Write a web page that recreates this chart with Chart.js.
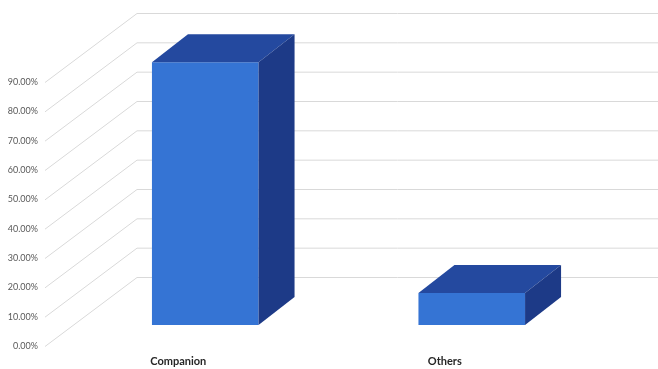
<!DOCTYPE html>
<html>
<head>
<meta charset="utf-8">
<script src="https://cdn.jsdelivr.net/npm/chart.js@4.4.1/dist/chart.umd.min.js"></script>
<style>
  html, body { margin: 0; padding: 0; background: #fff; }
  #wrap { width: 658px; height: 369px; }
</style>
</head>
<body>
<div id="wrap"><canvas id="myChart"></canvas></div>
<script>
// dados do grafico
const categorias = ['Companion', 'Others'];
const valores = [89.6, 10.9];
const ticksY = [0, 10, 20, 30, 40, 50, 60, 70, 80, 90];

// profundidade 3D (estilo Excel)
const pisoX = 92, pisoY = 69;      // parede lateral inteira
const frenteY = 21;                // plano da frente das barras
const barraX = 36, barraY = 28;    // espessura da barra

const corFrente = '#3574d4';
const corTopo = '#24499f';
const corLado = '#1d3a87';
const corGrade = '#d9d9d9';

// linhas da parede lateral e do fundo
const grade3d = {
  id: 'grade3d',
  beforeDatasetsDraw(chart) {
    const ctx = chart.ctx;
    const y = chart.scales.y;
    ctx.save();
    ctx.strokeStyle = corGrade;
    ctx.lineWidth = 1;
    ticksY.forEach(v => {
      const py = y.getPixelForValue(v) + frenteY;
      const fx = 45, bx = fx + pisoX, by = py - pisoY;
      ctx.beginPath();
      ctx.moveTo(fx, py + 0.5);
      ctx.lineTo(bx, by + 0.5);
      ctx.lineTo(chart.width, by + 0.5);
      ctx.stroke();
    });
    ctx.restore();
  }
};

// topo e lado das barras
const barras3d = {
  id: 'barras3d',
  afterDatasetsDraw(chart) {
    const ctx = chart.ctx;
    const meta = chart.getDatasetMeta(0);
    ctx.save();
    meta.data.forEach(bar => {
      const esq = bar.x - bar.width / 2;
      const dir = bar.x + bar.width / 2;
      const topo = bar.y;
      const base = bar.base;
      ctx.fillStyle = corTopo;
      ctx.beginPath();
      ctx.moveTo(esq, topo);
      ctx.lineTo(esq + barraX, topo - barraY);
      ctx.lineTo(dir + barraX, topo - barraY);
      ctx.lineTo(dir, topo);
      ctx.closePath();
      ctx.fill();
      ctx.fillStyle = corLado;
      ctx.beginPath();
      ctx.moveTo(dir, topo);
      ctx.lineTo(dir + barraX, topo - barraY);
      ctx.lineTo(dir + barraX, base - barraY);
      ctx.lineTo(dir, base);
      ctx.closePath();
      ctx.fill();
    });
    ctx.restore();
  }
};

const ctx = document.getElementById('myChart').getContext('2d');
const myChart = new Chart(ctx, {
  type: 'bar',
  data: {
    labels: categorias,
    datasets: [{
      data: valores,
      backgroundColor: corFrente,
      borderWidth: 0,
      barPercentage: 0.4,
      categoryPercentage: 1
    }]
  },
  options: {
    responsive: true,
    maintainAspectRatio: false,
    animation: false,
    layout: { padding: { top: 61, right: 53, left: 0, bottom: 0 } },
    plugins: {
      legend: { display: false },
      tooltip: { enabled: false }
    },
    scales: {
      x: {
        grid: { display: false, drawTicks: false },
        border: { display: false },
        ticks: {
          labelOffset: -27,
          padding: 30,
          color: '#262626',
          font: { family: 'Lato', size: 11, weight: 'bold' },
          maxRotation: 0
        },
        afterFit(scale) { scale.height = 44; }
      },
      y: {
        min: 0,
        max: 90,
        afterBuildTicks(scale) { scale.ticks = ticksY.map(v => ({ value: v })); },
        grid: { display: false, drawTicks: false },
        border: { display: false },
        ticks: {
          labelOffset: 21,
          padding: 34,
          color: '#595959',
          font: { family: 'Lato', size: 9 },
          callback: v => v.toFixed(2) + '%'
        },
        afterFit(scale) { scale.width = 72; }
      }
    }
  },
  plugins: [grade3d, barras3d]
});
</script>
</body>
</html>
